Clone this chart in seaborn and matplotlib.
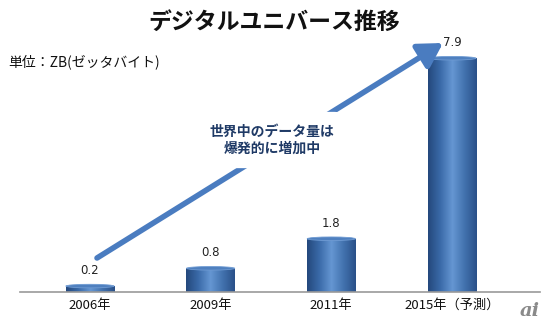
import numpy as np
import pandas as pd
import matplotlib
matplotlib.use("Agg")
import matplotlib.pyplot as plt
import seaborn as sns
from matplotlib.patches import Ellipse
from matplotlib.colors import LinearSegmentedColormap

categories = ["2006年", "2009年", "2011年", "2015年（予測）"]
values = [0.2, 0.8, 1.8, 7.9]
value_labels = ["0.2", "0.8", "1.8", "7.9"]

sns.set_theme(style="white")
plt.rcParams['font.family'] = ['Noto Sans CJK JP', 'DejaVu Sans']

df = pd.DataFrame({"year": categories, "zb": values})

fig = plt.figure(figsize=(5.48, 3.24), dpi=100)
ax = fig.add_axes([20/548, 1-292/324, 520/548, 282/324])
sns.barplot(data=df, x="year", y="zb", ax=ax, color="#3a6aa8", width=0.4,
            saturation=1, edgecolor="none")
ax.set_xlim(-0.58, 3.73)
ax.set_ylim(0, 9.53)

cmap = LinearSegmentedColormap.from_list("cyl", ["#24487c", "#3a6aa8", "#6596d2", "#4272ae", "#2a5088"])
grad = np.linspace(0, 1, 256).reshape(1, -1)
for p in ax.patches:
    x0, w, h = p.get_x(), p.get_width(), p.get_height()
    im = ax.imshow(grad, cmap=cmap, aspect="auto", extent=[x0, x0 + w, 0, h], zorder=2)
    im.set_clip_path(p)
    ell = Ellipse((x0 + w/2, h), w, 0.12, facecolor="#4f80bf", edgecolor="#6f9bd3", lw=0.6, zorder=3)
    ax.add_patch(ell)

for i, (v, lab) in enumerate(zip(values, value_labels)):
    ax.text(i, v + 0.3, lab, ha="center", va="bottom", fontsize=8.5, color="#222222",
            family=["DejaVu Sans"])

sns.despine(ax=ax, left=True, top=True, right=True)
ax.spines["bottom"].set_color("#999999")
ax.spines["bottom"].set_linewidth(1.2)
ax.set_yticks([])
ax.set_xlabel("")
ax.set_ylabel("")
ax.tick_params(axis="x", length=0, labelsize=9.5, pad=5, colors="#111111")

# arrow
ax.annotate("", xy=(443, 324-43), xytext=(97, 324-258),
            xycoords="figure pixels", textcoords="figure pixels",
            arrowprops=dict(arrowstyle="-|>,head_length=1.2,head_width=0.7", color="#4a7cc0",
                            lw=4, shrinkA=0, shrinkB=0),
            zorder=5, annotation_clip=False)

fig.text(272/548, 1-140/324, "世界中のデータ量は\n爆発的に増加中", ha="center", va="center",
         fontsize=10, fontweight="bold", color="#1f3a66", linespacing=1.3,
         bbox=dict(facecolor="white", edgecolor="none", boxstyle="round,pad=0.9"), zorder=6)

fig.text(0.5, 1-22/324, "デジタルユニバース推移", ha="center", va="center",
         fontsize=16.5, fontweight="bold", color="#111111")
fig.text(8/548, 1-62/324, "単位：ZB(ゼッタバイト)", ha="left", va="center",
         fontsize=10, color="#111111")
fig.text(540/548, 1-311/324, "ai", ha="right", va="center", fontsize=14,
         fontstyle="italic", fontweight="bold", color="#8a8a8a", family=["DejaVu Serif"])

fig.savefig("out.png", dpi=100)
